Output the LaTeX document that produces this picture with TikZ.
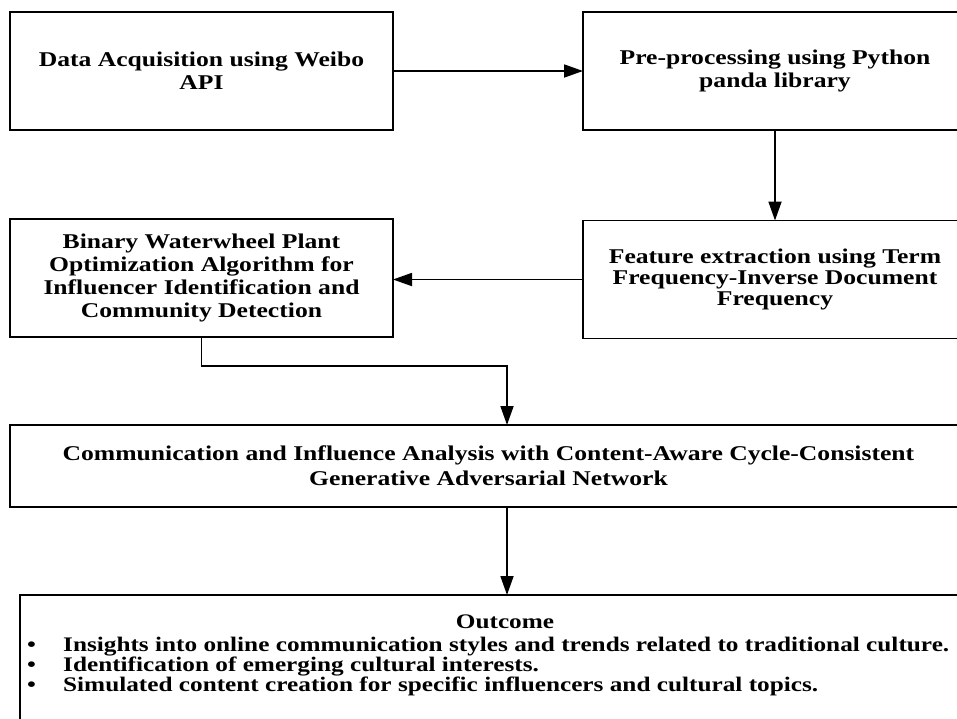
\documentclass[tikz,border=0pt]{standalone}
\usepackage{fontspec}
\setmainfont{Liberation Serif}[FakeStretch=1.22]
\usetikzlibrary{arrows.meta}
\begin{document}
\begin{tikzpicture}[x=1pt,y=-1pt,
  box/.style={draw, line width=1.8pt, inner sep=0pt, outer sep=0pt, align=center,
    font=\fontsize{21}{23}\selectfont\bfseries},
  txt/.style={inner sep=0pt, font=\fontsize{20.7}{20}\selectfont\bfseries},
  conn/.style={line width=1.8pt, -{Triangle[length=19pt,width=13pt]}}]
\useasboundingbox (0,0) rectangle (957,718);
\clip (0,0) rectangle (957,718);
\node[box, minimum width=383pt, minimum height=118pt] (acq) at (201.5,71)
  {Data Acquisition using Weibo\\API};
\node[box, minimum width=384pt, minimum height=118pt] (pre) at (775,71)
  {Pre-processing using Python\\panda library};
\node[box, minimum width=383pt, minimum height=118pt] (bwpo) at (201.5,278)
  {Binary Waterwheel Plant\\Optimization Algorithm for\\Influencer Identification and\\Community Detection};
\node[box, minimum width=384pt, minimum height=118pt,
  font=\fontsize{21}{21}\selectfont\bfseries] (feat) at (775,279.5)
  {Feature extraction using Term\\Frequency-Inverse Document\\Frequency};
\node[box, minimum width=957pt, minimum height=82pt,
  font=\fontsize{21}{25}\selectfont\bfseries] (comm) at (488.5,466)
  {Communication and Influence Analysis with Content-Aware Cycle-Consistent\\Generative Adversarial Network};
\node[draw, line width=1.8pt, inner sep=0pt, outer sep=0pt,
  minimum width=947pt, minimum height=140pt] (out) at (493.5,665) {};
\node[txt, anchor=base] (outtitle) at (505,628) {Outcome};
\node[txt, anchor=base west] (b1) at (27,651)
  {\makebox[36pt][l]{•}Insights into online communication styles and trends related to traditional culture.};
\node[txt, anchor=base west] (b2) at (27,671)
  {\makebox[36pt][l]{•}Identification of emerging cultural interests.};
\node[txt, anchor=base west] (b3) at (27,691)
  {\makebox[36pt][l]{•}Simulated content creation for specific influencers and cultural topics.};
\coordinate (j) at (507,366);
\draw[conn] (acq.east) -- (pre.west);
\draw[conn] (pre.south) -- (feat.north);
\draw[conn] (feat.west) -- (feat.west -| bwpo.east);
\draw[conn] (bwpo.south) |- (j) -- (j |- comm.north);
\draw[conn] (comm.south -| j) -- (j |- out.north);
\end{tikzpicture}
\end{document}
